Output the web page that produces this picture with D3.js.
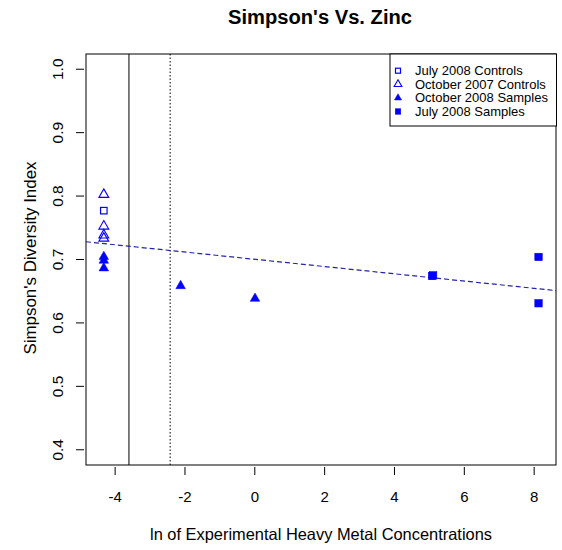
<!DOCTYPE html>
<html>
<head>
<meta charset="utf-8">
<script src="https://cdn.jsdelivr.net/npm/d3@7"></script>
<style>
  body { margin: 0; background: #fff; }
  text { font-family: "Liberation Sans", Arial, sans-serif; }
</style>
</head>
<body>
<svg id="plot" width="562" height="550"></svg>
<script>
// data
const jul08ControlsX = [-4.31];
const jul08ControlsY = [0.777];
const oct07ControlsX = [-4.31, -4.31, -4.31, -4.31];
const oct07ControlsY = [0.804, 0.754, 0.740, 0.735];
const oct08SamplesX = [-4.31, -4.31, -4.31, -2.11, 0.02];
const oct08SamplesY = [0.706, 0.700, 0.688, 0.660, 0.640];
const jul08SamplesX = [5.09, 5.12, 8.14, 8.14];
const jul08SamplesY = [0.674, 0.675, 0.704, 0.631];
const fitIntercept = 0.7004, fitSlope = -0.00572;
const vSolid = -3.59, vDotted = -2.41;
const xTicks = [-4, -2, 0, 2, 4, 6, 8];
const yTicks = [0.4, 0.5, 0.6, 0.7, 0.8, 0.9, 1.0];
const legendLabels = ["July 2008 Controls", "October 2007 Controls", "October 2008 Samples", "July 2008 Samples"];

const svg = d3.select("#plot");
const box = {left: 86, right: 556, top: 54, bottom: 465};
const blue = "#0000ff";

const x = d3.scaleLinear().domain([-4.82, 8.64]).range([box.left, box.right]);
const y = d3.scaleLinear().domain([0.376, 1.024]).range([box.bottom, box.top]);

// title and axis labels
svg.append("text").attr("x", 320).attr("y", 24).attr("text-anchor", "middle")
  .attr("font-size", 19.5).attr("font-weight", "bold")
  .attr("textLength", 184).attr("lengthAdjust", "spacingAndGlyphs").text("Simpson's Vs. Zinc");
svg.append("text").attr("x", 321).attr("y", 540).attr("text-anchor", "middle")
  .attr("font-size", 16.5).attr("textLength", 342).attr("lengthAdjust", "spacingAndGlyphs")
  .text("ln of Experimental Heavy Metal Concentrations");
svg.append("text").attr("transform", "translate(36,258) rotate(-90)").attr("text-anchor", "middle")
  .attr("font-size", 16).attr("textLength", 193).attr("lengthAdjust", "spacingAndGlyphs")
  .text("Simpson's Diversity Index");

// clip for lines inside plot region
svg.append("clipPath").attr("id", "clip").append("rect")
  .attr("x", box.left).attr("y", box.top)
  .attr("width", box.right - box.left).attr("height", box.bottom - box.top);
const g = svg.append("g").attr("clip-path", "url(#clip)");

// reference lines
g.append("line").attr("x1", x(vSolid)).attr("x2", x(vSolid))
  .attr("y1", box.top).attr("y2", box.bottom).attr("stroke", "#000").attr("stroke-width", 1);
g.append("line").attr("x1", x(vDotted)).attr("x2", x(vDotted))
  .attr("y1", box.top).attr("y2", box.bottom).attr("stroke", "#000")
  .attr("stroke-width", 1).attr("stroke-dasharray", "1.5,2");

// regression line
const xd = x.domain();
g.append("line")
  .attr("x1", x(xd[0])).attr("y1", y(fitIntercept + fitSlope * xd[0]))
  .attr("x2", x(xd[1])).attr("y2", y(fitIntercept + fitSlope * xd[1]))
  .attr("stroke", "#2424a8").attr("stroke-width", 1.2).attr("stroke-dasharray", "5,3");

// axes (ticks only, detached from box)
const xAxis = d3.axisBottom(x).tickValues(xTicks).tickSize(8).tickFormat(d => String(d));
const xa = svg.append("g").attr("transform", `translate(0,${box.bottom + 2})`).call(xAxis);
xa.select(".domain").remove();
xa.selectAll("text").attr("font-size", 15).attr("y", 30).attr("dy", "0.35em").attr("fill", "#000")
  .style("font-family", "Liberation Sans, Arial, sans-serif");

const yAxis = d3.axisLeft(y).tickValues(yTicks).tickSize(8).tickFormat(d3.format(".1f"));
const ya = svg.append("g").attr("transform", `translate(${box.left - 2},0)`).call(yAxis);
ya.select(".domain").remove();
ya.selectAll("text").attr("font-size", 15.5).attr("fill", "#000")
  .attr("transform", d => `rotate(-90, -26, ${y(d)})`)
  .attr("x", -26).attr("y", d => y(d)).attr("dy", "0.35em").attr("text-anchor", "middle")
  .style("font-family", "Liberation Sans, Arial, sans-serif");
ya.selectAll(".tick").attr("transform", null);
ya.selectAll(".tick line").attr("y1", d => y(d)).attr("y2", d => y(d));

// box
svg.append("rect").attr("x", box.left).attr("y", box.top)
  .attr("width", box.right - box.left).attr("height", box.bottom - box.top)
  .attr("fill", "none").attr("stroke", "#000").attr("stroke-width", 1);

// symbols
const triOpen = d3.symbol().type(d3.symbolTriangle).size(42);
const triFill = d3.symbol().type(d3.symbolTriangle).size(40);
function drawSquare(sel, cx, cy, s, filled) {
  sel.append("rect").attr("x", cx - s / 2).attr("y", cy - s / 2).attr("width", s).attr("height", s)
    .attr("fill", filled ? blue : "none").attr("stroke", blue).attr("stroke-width", filled ? 0.5 : 1.2);
}
function drawTri(sel, cx, cy, filled, sym) {
  sel.append("path").attr("d", sym ? sym() : (filled ? triFill() : triOpen()))
    .attr("transform", `translate(${cx},${cy + 1})`)
    .attr("fill", filled ? blue : "none").attr("stroke", blue).attr("stroke-width", filled ? 0.5 : 1.1);
}
const pts = svg.append("g");
jul08ControlsX.forEach((v, i) => drawSquare(pts, x(v), y(jul08ControlsY[i]), 6.5, false));
oct07ControlsX.forEach((v, i) => drawTri(pts, x(v), y(oct07ControlsY[i]), false));
oct08SamplesX.forEach((v, i) => drawTri(pts, x(v), y(oct08SamplesY[i]), true));
jul08SamplesX.forEach((v, i) => drawSquare(pts, x(v), y(jul08SamplesY[i]), 7.5, true));

// legend
const lg = svg.append("g");
lg.append("rect").attr("x", 390).attr("y", 54).attr("width", 166.5).attr("height", 72)
  .attr("fill", "#fff").attr("stroke", "#000").attr("stroke-width", 1);
const smallOpen = d3.symbol().type(d3.symbolTriangle).size(26);
const smallFill = d3.symbol().type(d3.symbolTriangle).size(22);
legendLabels.forEach((lab, i) => {
  const cy = 70.7 + i * 13.6;
  if (i === 0) drawSquare(lg, 398, cy, 5, false);
  if (i === 1) drawTri(lg, 398, cy - 1, false, smallOpen);
  if (i === 2) drawTri(lg, 398, cy - 1, true, smallFill);
  if (i === 3) drawSquare(lg, 398, cy, 5.5, true);
  lg.append("text").attr("x", 415).attr("y", cy).attr("dy", "0.35em")
    .attr("font-size", 13).text(lab);
});
</script>
</body>
</html>
